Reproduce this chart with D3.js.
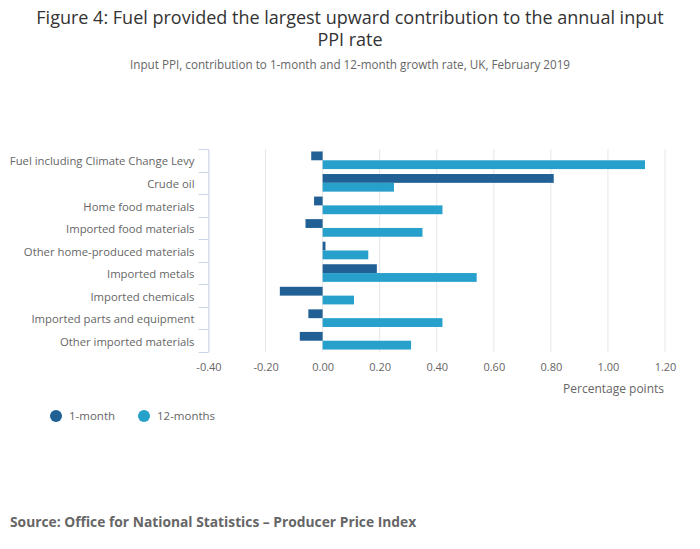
<!DOCTYPE html>
<html>
<head>
<meta charset="utf-8">
<script src="https://cdn.jsdelivr.net/npm/d3@7"></script>
<style>
  body { margin: 0; background: #fff; }
  svg { font-family: "Open Sans", sans-serif; }
</style>
</head>
<body>
<svg id="chart" width="700" height="549"></svg>
<script>
// chart values
var categories = ["Fuel including Climate Change Levy", "Crude oil", "Home food materials",
  "Imported food materials", "Other home-produced materials", "Imported metals",
  "Imported chemicals", "Imported parts and equipment", "Other imported materials"];
var oneMonth = [-0.04, 0.81, -0.03, -0.06, 0.01, 0.19, -0.15, -0.05, -0.08];
var twelveMonths = [1.13, 0.25, 0.42, 0.35, 0.16, 0.54, 0.11, 0.42, 0.31];
var xTicks = [-0.4, -0.2, 0, 0.2, 0.4, 0.6, 0.8, 1.0, 1.2];
var seriesNames = ["1-month", "12-months"];
var colors = ["#206095", "#27a0cc"];

var svg = d3.select("#chart");

// titles
svg.append("text").attr("x", 350).attr("y", 24).attr("text-anchor", "middle")
  .attr("font-size", 18).attr("fill", "#333")
  .text("Figure 4: Fuel provided the largest upward contribution to the annual input");
svg.append("text").attr("x", 350).attr("y", 46).attr("text-anchor", "middle")
  .attr("font-size", 18).attr("fill", "#333").text("PPI rate");
svg.append("text").attr("x", 350).attr("y", 69).attr("text-anchor", "middle")
  .attr("font-size", 11.7).attr("fill", "#666")
  .text("Input PPI, contribution to 1-month and 12-month growth rate, UK, February 2019");

var x = d3.scaleLinear().domain([-0.4, 1.2]).range([208.5, 665]);
var y = d3.scaleBand().domain(categories).range([149, 352]);
var inner = d3.scaleBand().domain(seriesNames).range([0, y.bandwidth()]).paddingOuter(0.28);

// grid
svg.append("g").selectAll("line").data(xTicks).join("line")
  .attr("x1", d => x(d)).attr("x2", d => x(d))
  .attr("y1", 149).attr("y2", 352)
  .attr("stroke", "#e6e6e6").attr("stroke-width", 1);

// bars
var series = [oneMonth, twelveMonths];
series.forEach(function(vals, s) {
  svg.append("g").selectAll("rect").data(vals).join("rect")
    .attr("x", d => x(Math.min(0, d)))
    .attr("width", d => Math.abs(x(d) - x(0)))
    .attr("y", (d, i) => y(categories[i]) + inner(seriesNames[s]))
    .attr("height", inner.bandwidth())
    .attr("fill", colors[s]);
});

// x axis labels (plain hyphen for negatives)
var fmt = d3.format(".2f");
var xAxis = d3.axisBottom(x).tickValues(xTicks)
  .tickFormat(d => fmt(d).replace("\u2212", "-")).tickSize(0);
var gx = svg.append("g").attr("transform", "translate(0,360)").call(xAxis);
gx.select(".domain").remove();
gx.selectAll("text").attr("font-size", 11).attr("fill", "#666")
  .attr("font-family", "Open Sans, sans-serif");

svg.append("text").attr("x", 664).attr("y", 393).attr("text-anchor", "end")
  .attr("font-size", 12).attr("fill", "#666").text("Percentage points");

// y axis
var yAxis = d3.axisLeft(y).tickSize(0).tickPadding(14);
var gy = svg.append("g").attr("transform", "translate(208.5,1.5)").call(yAxis);
gy.select(".domain").attr("transform", "translate(0,-1.5)").attr("stroke", "#ccd6eb");
gy.selectAll("text").attr("font-size", 11.3).attr("fill", "#666")
  .attr("font-family", "Open Sans, sans-serif");

// category boundary ticks
var bounds = categories.map(c => y(c)).concat([352]);
svg.append("g").selectAll("line").data(bounds).join("line")
  .attr("x1", 198.5).attr("x2", 208.5)
  .attr("y1", d => Math.round(d) + 0.5).attr("y2", d => Math.round(d) + 0.5)
  .attr("stroke", "#ccd6eb");

// legend
var legendX = [56, 144];
var lg = svg.append("g").selectAll("g").data(seriesNames).join("g")
  .attr("transform", (d, i) => "translate(" + legendX[i] + ",416)");
lg.append("circle").attr("r", 6).attr("fill", (d, i) => colors[i]);
lg.append("text").attr("x", 13).attr("y", 4).attr("font-size", 11.5).attr("fill", "#666").text(d => d);

// source
svg.append("text").attr("x", 10).attr("y", 527).attr("font-size", 13.8)
  .attr("font-weight", "bold").attr("fill", "#666")
  .text("Source: Office for National Statistics \u2013 Producer Price Index");
</script>
</body>
</html>
